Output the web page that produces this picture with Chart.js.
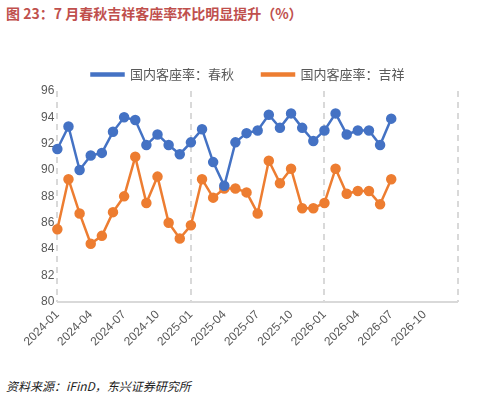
<!DOCTYPE html>
<html><head><meta charset="utf-8">
<script src="https://cdn.jsdelivr.net/npm/chart.js@4"></script>
<style>
body{margin:0;width:490px;height:401px;background:#fff;font-family:"Noto Sans CJK SC",sans-serif;position:relative;overflow:hidden}
#t{position:absolute;left:6px;top:3px;font-size:14px;font-weight:bold;color:#c0504d}
#s{position:absolute;left:6px;top:377px;font-size:12px;font-style:italic;color:#222}
#w{position:absolute;left:0;top:40px;width:480px;height:335px}
</style></head><body>
<div id="t">图 23：7 月春秋吉祥客座率环比明显提升（%）</div>
<div id="w"><canvas id="c"></canvas></div>
<div id="s">资料来源：iFinD，东兴证券研究所</div>
<script>
const months=[];for(let y=2024;y<=2027;y++)for(let m=1;m<=12;m++){if(y===2027&&m>1)break;months.push(y+'-'+String(m).padStart(2,'0'));}
const spring=[91.6,93.3,90.0,91.1,91.3,92.9,94.0,93.8,91.9,92.7,91.9,91.2,92.1,93.1,90.6,88.8,92.1,92.8,93.0,94.2,93.2,94.3,93.2,92.2,93.0,94.3,92.7,93.0,93.0,91.9,93.9];
const juneyao=[85.5,89.3,86.7,84.4,85.0,86.8,88.0,91.0,87.5,89.5,86.0,84.8,85.8,89.3,87.9,88.6,88.6,88.3,86.7,90.7,89.0,90.1,87.1,87.1,87.5,90.1,88.2,88.4,88.4,87.4,89.3];
new Chart(document.getElementById('c'),{type:'line',
data:{labels:months,datasets:[
{label:'国内客座率：春秋',data:spring,borderColor:'#4472c4',backgroundColor:'#4472c4',borderWidth:2.5,pointRadius:4,pointHoverRadius:4},
{label:'国内客座率：吉祥',data:juneyao,borderColor:'#ed7d31',backgroundColor:'#ed7d31',borderWidth:2.5,pointRadius:4,pointHoverRadius:4}]},
options:{responsive:true,maintainAspectRatio:false,animation:false,
layout:{padding:{left:38,right:22,bottom:20}},
plugins:{legend:{labels:{boxWidth:32,boxHeight:2,color:'#595959',font:{size:13,family:'Noto Sans CJK SC'},padding:28}},tooltip:{enabled:false}},
scales:{x:{offset:false,grid:{color:c=>c.index%12===0?'#d9d9d9':'rgba(0,0,0,0)',lineWidth:2,drawTicks:false},border:{display:false,dash:[6,5]},
 ticks:{autoSkip:false,maxRotation:45,minRotation:45,color:'#595959',font:{size:12},padding:6,callback:(v,i)=>(i%3===0&&i<36)?months[i]:''}},
 y:{min:80,max:96,ticks:{stepSize:2,color:'#595959',font:{size:12}},grid:{color:c=>c.tick.value===80?'#d9d9d9':'rgba(0,0,0,0)',lineWidth:2,drawTicks:false},border:{display:false}}}}});
</script></body></html>
